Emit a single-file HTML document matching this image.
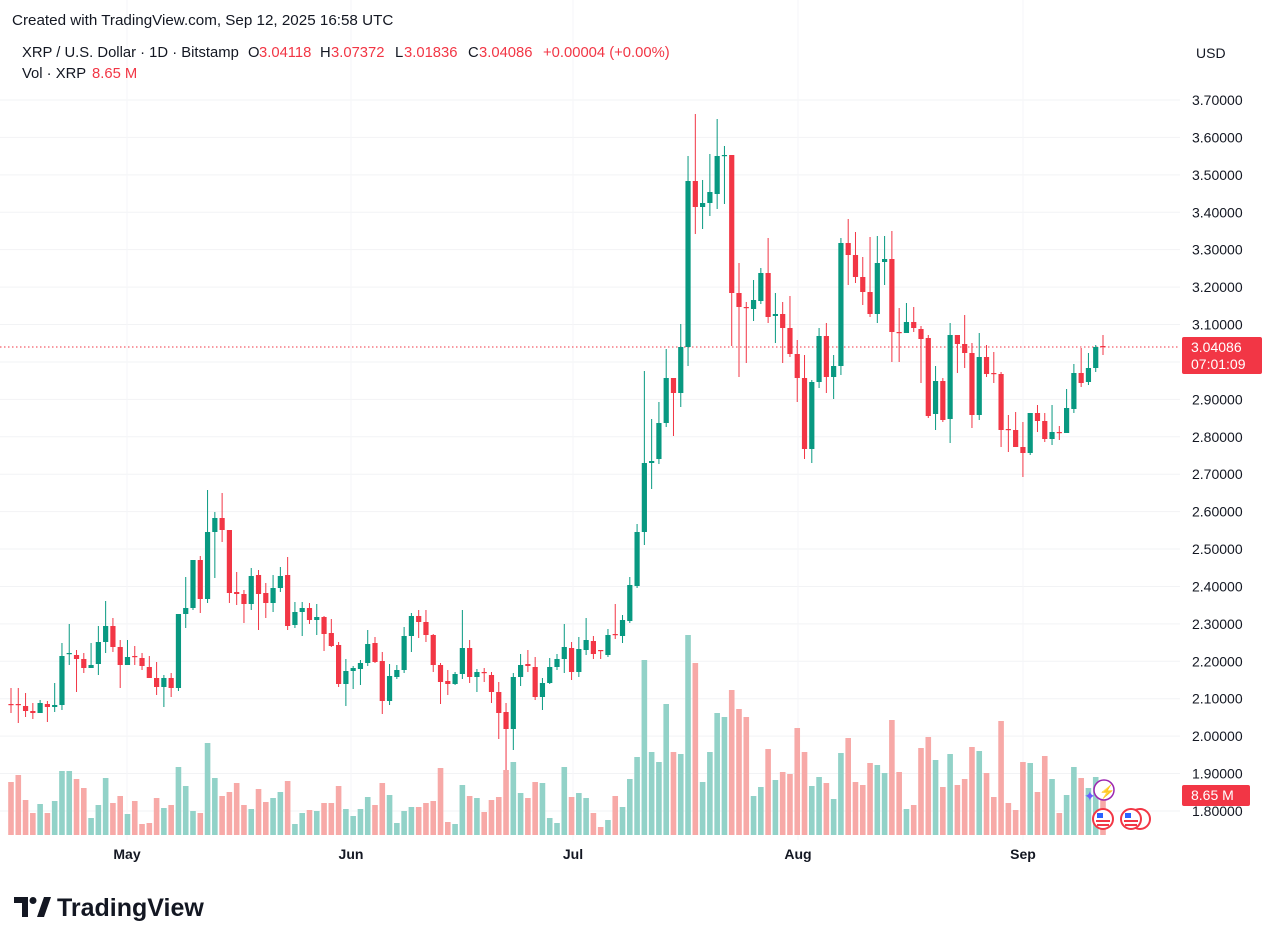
<!DOCTYPE html>
<html><head><meta charset="utf-8"><style>
html,body{margin:0;padding:0;background:#fff;width:1280px;height:943px;overflow:hidden;font-family:"Liberation Sans",Arial,sans-serif;}
svg text{font-family:"Liberation Sans",Arial,sans-serif;}
</style></head><body>
<svg id="c" width="1280" height="943" xmlns="http://www.w3.org/2000/svg">
<rect width="1280" height="943" fill="#fff"/>
<g id="grid"></g>
<g id="vol"></g>
<line x1="0" y1="347" x2="1180" y2="347" stroke="#f23645" stroke-width="1" stroke-dasharray="1.5,2.5"/>
<g id="candles"></g>
<text x="12" y="25" font-size="15.2" fill="#131722">Created with TradingView.com, Sep 12, 2025 16:58 UTC</text>
<g font-size="14.8" fill="#131722">
<text x="22" y="57">XRP / U.S. Dollar · 1D · Bitstamp</text>
<text x="248" y="57">O</text><text x="259" y="57" fill="#f23645">3.04118</text>
<text x="320" y="57">H</text><text x="331" y="57" fill="#f23645">3.07372</text>
<text x="395" y="57">L</text><text x="404" y="57" fill="#f23645">3.01836</text>
<text x="468" y="57">C</text><text x="479" y="57" fill="#f23645">3.04086</text>
<text x="543" y="57" fill="#f23645">+0.00004 (+0.00%)</text>
<text x="22" y="78">Vol · XRP</text><text x="92" y="78" fill="#f23645">8.65 M</text>
</g>
<rect x="1184" y="38" width="60" height="30" fill="#fff"/>
<text x="1196" y="58" font-size="14" fill="#131722">USD</text>
<g id="axis" font-size="14" fill="#131722"></g>
<rect x="1182" y="337" width="80" height="37" rx="2" fill="#f23645"/>
<text x="1191" y="352" font-size="14" fill="#fff">3.04086</text>
<text x="1191" y="369" font-size="14" fill="#fff">07:01:09</text>
<rect x="1182" y="785" width="68" height="21" rx="2" fill="#f23645"/>
<text x="1191" y="800" font-size="14" fill="#fff">8.65 M</text>
<g font-size="14" font-weight="bold" fill="#131722" text-anchor="middle">
<text x="127" y="859">May</text><text x="351" y="859">Jun</text><text x="573" y="859">Jul</text><text x="798" y="859">Aug</text><text x="1023" y="859">Sep</text>
</g>
<circle cx="1104" cy="790" r="10" fill="#fff" stroke="#9c27b0" stroke-width="1.5"/>
<text x="1099" y="796" font-size="13" fill="#7e57c2">⚡</text>
<text x="1084" y="801" font-size="14" fill="#6a5cff">✦</text>
<g stroke="#f23645" stroke-width="2" fill="#fff">
<circle cx="1140" cy="819" r="10"/><circle cx="1131" cy="819" r="10"/><circle cx="1103" cy="819" r="10"/>
</g>
<g fill="#2962ff"><rect x="1097" y="813" width="6" height="5"/><rect x="1125" y="813" width="6" height="5"/></g>
<g fill="#f23645"><rect x="1096" y="820" width="14" height="2"/><rect x="1124" y="820" width="14" height="2"/><rect x="1097" y="824" width="12" height="2"/><rect x="1125" y="824" width="12" height="2"/></g>
<g fill="#131722">
<path d="M14 897 h14 v20 h-6 v-14 h-8 z"/>
<circle cx="33" cy="900.5" r="3.5"/>
<path d="M37 917 l7-20 h7 l-7 20 z"/>
</g>
<text x="57" y="916" font-size="25" font-weight="bold" fill="#131722">TradingView</text>
</svg>
<script>
var C=[
"r 688 704 705 713","r 688 704 705 723","r 693 706 711 717","r 703 711 713 719","g 700 703 713 713","r 701 704 707 722","g 683 705 707 712","g 643 656 705 710","g 624 653 654 665","r 650 655 659 692",
"r 653 659 668 673","g 643 665 668 668","g 626 642 664 675","g 601 626 642 653","r 618 626 647 652","r 640 647 665 688","g 640 657 665 665","r 646 656 657 665","r 653 658 666 670","r 656 667 678 678",
"r 662 678 687 695","g 675 678 687 707","r 673 678 688 697","g 614 614 688 691","g 577 608 614 628","g 560 560 608 610","r 556 560 599 613","g 490 532 599 603","g 512 518 532 578","r 493 518 530 542",
"r 530 530 593 603","r 572 592 594 605","r 590 594 604 623","g 568 576 604 610","r 570 575 594 630","r 583 593 603 618","g 575 588 603 612","g 567 576 588 592","r 557 575 626 630","g 602 612 625 628",
"g 602 608 612 636","r 603 608 620 624","g 604 617 620 635","r 616 617 634 651","r 619 633 646 647","r 642 645 684 687","g 659 671 684 706","g 666 668 671 689","g 660 663 669 685","g 630 644 663 666",
"r 637 643 662 663","r 652 661 701 714","g 664 676 701 705","g 665 670 677 679","g 627 636 670 673","g 613 616 636 652","r 610 616 622 638","r 610 622 635 642","r 634 635 665 672","r 663 665 682 704",
"r 670 681 684 695","g 672 674 684 685","g 610 648 674 679","r 640 648 677 683","g 669 672 677 692","r 668 672 673 682","r 672 675 692 703","r 682 692 713 739","r 703 712 729 770","g 673 677 729 750",
"g 654 665 677 686","r 650 664 666 672","r 657 667 697 700","g 678 683 697 710","g 658 667 683 684","g 654 659 667 670","g 624 647 659 673","r 642 648 672 680","g 637 649 672 677","g 618 640 650 655",
"r 636 641 654 659","r 650 650 651 659","g 629 635 655 657","r 604 634 635 639","g 615 620 636 643","g 577 585 621 623","g 524 532 586 588","g 371 463 532 545","g 419 461 463 489","g 402 423 459 464",
"g 349 378 423 427","r 378 378 393 436","g 324 347 393 407","g 156 181 347 366","r 114 181 207 234","g 180 203 207 229","g 154 192 203 216","g 119 156 194 209","g 146 155 156 204","r 155 155 293 346",
"r 263 293 307 377","r 302 307 308 363","g 280 300 309 321","g 268 273 301 304","r 238 273 317 323","g 293 314 316 343","r 302 314 328 363","r 296 328 354 357","r 340 354 378 402","r 355 378 449 459",
"g 380 382 449 463","g 328 336 382 388","r 323 336 377 393","g 355 366 377 399","g 238 243 366 375","r 219 243 255 285","r 232 255 277 283","r 257 277 292 305","r 237 292 314 317","g 236 263 314 323",
"g 236 259 262 285","r 231 259 332 362","r 308 332 333 362","g 303 322 333 333","r 307 322 328 332","r 326 329 339 383","r 335 338 416 418","g 366 381 414 430","r 378 381 420 422","g 323 335 419 443",
"r 335 335 344 373","r 315 344 353 368","r 343 353 415 428","g 333 357 415 420","r 345 357 374 377","r 352 373 374 383","r 372 374 430 447","r 415 429 430 452","r 412 430 447 447","r 422 447 453 477",
"g 413 413 453 455","r 405 413 421 432","r 413 421 439 442","g 405 432 439 445","r 426 432 433 440","g 389 408 433 433","g 364 373 409 413","r 348 373 383 387","g 353 368 382 385","g 345 347 368 372",
"r 335 346 347 355"];
var V=[782,775,800,813,804,813,801,771,771,779,788,818,805,778,803,796,814,801,824,823,798,808,805,767,786,811,813,743,778,796,792,783,805,809,789,802,798,792,781,824,
813,810,811,803,803,786,809,816,809,797,805,783,795,823,811,807,807,803,801,768,822,824,785,796,798,812,800,797,770,762,793,798,782,783,818,823,767,797,793,798,
813,827,820,796,807,779,757,660,752,762,704,752,754,635,663,782,752,713,717,690,709,717,796,787,749,780,772,774,728,752,786,777,783,799,753,738,782,
785,763,765,773,720,772,809,805,748,737,760,787,754,785,779,747,751,773,797,721,803,810,762,763,792,756,779,813,795,767,778,788,777,795];
var NS="http://www.w3.org/2000/svg";
function el(p,t,a){var e=document.createElementNS(NS,t);for(var k in a)e.setAttribute(k,a[k]);p.appendChild(e);return e;}
var g=document.getElementById('grid'),ax=document.getElementById('axis');
var labels=["3.70000","3.60000","3.50000","3.40000","3.30000","3.20000","3.10000","3.00000","2.90000","2.80000","2.70000","2.60000","2.50000","2.40000","2.30000","2.20000","2.10000","2.00000","1.90000","1.80000"];
for(var k=0;k<20;k++){var y=100+k*37.42;
el(g,'line',{x1:0,y1:y,x2:1180,y2:y,stroke:'#f2f3f5','stroke-width':1});
if(labels[k]!="3.00000"){var t=el(ax,'text',{x:1192,y:y+5});t.textContent=labels[k];}}
[127,351,573,798,1023].forEach(function(x){el(g,'line',{x1:x,y1:0,x2:x,y2:840,stroke:'#f5f6f8','stroke-width':1});});
var cg=document.getElementById('candles'),vg=document.getElementById('vol');
for(var i=0;i<C.length;i++){var p=C[i].split(' ');var x=11+i*7.28;var col=p[0]=='g'?'#089981':'#f23645';
var H=+p[1],T=+p[2],B=+p[3],L=+p[4];
el(cg,'line',{x1:x,y1:H,x2:x,y2:L,stroke:col,'stroke-width':1});
el(cg,'rect',{x:x-2.6,y:T,width:5.2,height:Math.max(1.2,B-T),fill:col});
if(i<V.length){el(vg,'rect',{x:x-2.8,y:V[i],width:5.6,height:835-V[i],fill:p[0]=='g'?'#92d2c8':'#f7a9a7'});}
}
</script>
</body></html>
